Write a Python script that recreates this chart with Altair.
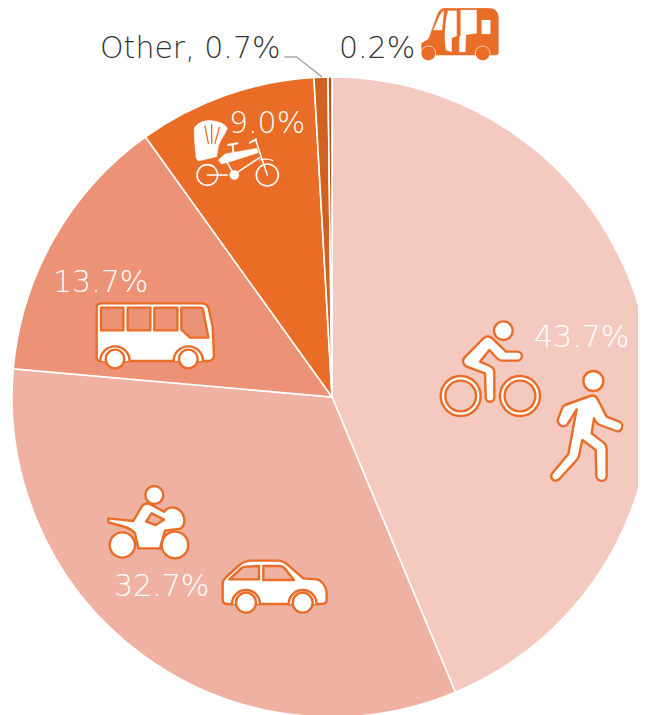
import altair as alt
import pandas as pd

categories = ["Walk and cycle", "Motorcycle and car", "Bus", "Rickshaw", "Other", "Auto rickshaw"]
values = [43.7, 32.7, 13.7, 9.0, 0.7, 0.2]
colours = ["#F4C9C0", "#EFB1A2", "#EC9377", "#E96C27", "#D1611F", "#B5521A"]
labels = ["43.7%", "32.7%", "13.7%", "9.0%", "Other, 0.7%", "0.2%"]
label_colours = ["#FFFFFF", "#FFFFFF", "#FFFFFF", "#FFFFFF", "#333333", "#333333"]

OR = "#E96C27"
PINK = "#F4C9C0"
SALMON = "#EFB1A2"
CORAL = "#EC9377"
WHITE = "#FFFFFF"
FONT = "DejaVu Sans ExtraLight, DejaVu Sans Light, Inter"
W, H = 630, 707
CX, CY, R = 324, 389, 320


def circ(cx, cy, r):
    k = 0.5523 * r
    return (f"M{cx-r},{cy}C{cx-r},{cy-k} {cx-k},{cy-r} {cx},{cy-r}"
            f"C{cx+k},{cy-r} {cx+r},{cy-k} {cx+r},{cy}"
            f"C{cx+r},{cy+k} {cx+k},{cy+r} {cx},{cy+r}"
            f"C{cx-k},{cy+r} {cx-r},{cy+k} {cx-r},{cy}Z")


def arch(cx, cy, r):
    k = 0.5523 * r
    return (f"M{cx-r},{cy}C{cx-r},{cy-k} {cx-k},{cy-r} {cx},{cy-r}"
            f"C{cx+k},{cy-r} {cx+r},{cy-k} {cx+r},{cy}")


base = pd.DataFrame({"a": [0]})


def icon(path, ox, oy, fill=WHITE, stroke=OR, sw=2.4):
    """Path written in 3x-zoomed pixels, placed at page origin (ox, oy)."""
    return alt.Chart(base).mark_point(
        shape=path, size=4 / 9, fill=fill, stroke=stroke, strokeWidth=sw,
        opacity=1, strokeJoin="round", strokeCap="round",
    ).encode(x=alt.value(ox - 8), y=alt.value(oy - 8))


df = pd.DataFrame({"cat": categories, "value": values, "idx": range(len(values)),
                   "label": labels, "tc": label_colours})

pie = alt.Chart(df).mark_arc(radius=R, stroke=WHITE, strokeWidth=1.6).encode(
    theta=alt.Theta("value:Q", stack=True, scale=alt.Scale(domain=[0, sum(values)])),
    order=alt.Order("idx:Q"),
    color=alt.Color("cat:N", scale=alt.Scale(domain=categories, range=colours), legend=None),
    x=alt.value(CX), y=alt.value(CY),
)


def text(i, px, py):
    return alt.Chart(df.iloc[[i]]).mark_text(
        font=FONT, fontSize=30, fontWeight=200, align="left", baseline="alphabetic",
        color=label_colours[i],
    ).encode(text="label:N", x=alt.value(px - 8), y=alt.value(py - 8))


texts = [text(0, 534, 347), text(1, 114, 596), text(2, 53, 292), text(3, 229, 133),
         text(4, 100, 58), text(5, 339, 58)]

# zoom crop origins
Z1 = (90, 0)
Z2 = (430, 310)
Z3 = (90, 470)
Z4 = (40, 255)

icons = []

# leader line
icons.append(icon("M585,171L620,171L695,230", *Z1, fill="transparent", stroke="#A9A9A9", sw=1.5))

# cyclist
icons += [
    icon(circ(92, 258, 60), *Z2),
    icon(circ(92, 258, 46), *Z2, fill=PINK),
    icon(circ(270, 258, 60), *Z2),
    icon(circ(270, 258, 46), *Z2, fill=PINK),
    icon("M160,85C170,76 182,78 190,88L228,125L262,125C280,125 280,152 262,152L215,152C208,152 204,148 200,144L178,120"
         "L150,155L180,168C190,172 193,178 193,188L193,262C193,280 167,280 167,262L165,190L110,170"
         "C98,165 96,150 104,142Z", *Z2),
    icon(circ(220, 62, 28), *Z2),
]
# walker
icons += [
    icon("M405,285L480,258C492,254 498,258 503,268L530,320L568,335C585,342 575,370 558,363L510,345"
         "C500,341 496,335 492,325L485,370L520,397C528,403 530,408 530,418L530,497C530,518 500,518 499,497"
         "L497,420L457,390L447,437C445,445 441,450 436,455L388,507C372,522 355,502 370,486L415,432L440,298"
         "L413,342C400,358 376,342 386,322L396,296C398,290 400,287 405,285Z", *Z2),
    icon(circ(490, 213, 30), *Z2),
]
# motorcycle
icons += [
    icon("M55,145L130,153L155,110C162,98 172,98 185,105L222,125C232,112 250,108 265,118C285,132 290,160 272,176"
         "L225,182L210,235L145,235L135,190C125,178 112,172 95,168L55,157Z", *Z3),
    icon("M185,130L222,149L197,165L168,155Z", *Z3, fill=SALMON),
    icon(circ(97, 225, 38), *Z3),
    icon(circ(255, 225, 40), *Z3),
    icon(circ(193, 75, 27), *Z3),
]
# car
icons += [
    icon("M398,340C398,330 405,325 412,318L445,288C458,276 468,272 485,272L565,272C578,272 585,278 595,286"
         "L640,325L680,328C695,330 710,350 710,370L710,390C710,398 705,402 695,402L410,402C400,402 398,396 398,388Z", *Z3),
    icon("M418,328L455,294C458,291 462,290 468,290L507,288L507,328Z", *Z3, fill=SALMON),
    icon("M520,288L570,288C576,288 580,291 584,295L612,330L520,330Z", *Z3, fill=SALMON),
    icon(arch(468, 402, 42), *Z3),
    icon(circ(468, 398, 30), *Z3),
    icon(arch(638, 402, 42), *Z3),
    icon(circ(638, 398, 30), *Z3),
]
# bus
icons += [
    icon("M170,158C170,150 175,145 185,145L485,145C498,145 503,152 506,160L518,215L522,300C522,312 516,318 505,318"
         "L180,318C173,318 170,312 170,305Z", *Z4),
    icon("M183,158L250,158L250,226L183,226Z", *Z4, fill=CORAL),
    icon("M263,158L331,158L331,226L263,226Z", *Z4, fill=CORAL),
    icon("M343,158L412,158L412,226L343,226Z", *Z4, fill=CORAL),
    icon("M424,158L482,158C486,158 488,160 489,164L505,248L450,248L424,224Z", *Z4, fill=CORAL),
    icon(arch(225, 318, 44), *Z4),
    icon(circ(225, 312, 28), *Z4),
    icon(arch(445, 318, 44), *Z4),
    icon(circ(445, 312, 28), *Z4),
]
# auto rickshaw (solid)
icons += [
    icon("M1018,112L1042,45C1048,30 1056,25 1068,25L1198,25C1215,25 1225,38 1225,52L1225,158C1225,164 1220,165 1212,165"
         "L1030,165L1000,158L995,150L995,130L1015,118Z", *Z1, fill=OR, stroke=OR, sw=0.5),
    icon("M1030,90L1050,45C1054,38 1058,33 1062,33L1056,90Z", *Z1, fill=WHITE, stroke=WHITE, sw=0.2),
    icon("M1074,32L1100,32L1100,108L1085,114L1085,156L1068,150C1062,120 1064,70 1074,32Z", *Z1, fill=WHITE, stroke=WHITE, sw=0.2),
    icon("M1112,30L1160,30L1160,100L1128,104L1126,156L1108,156L1108,110L1112,108Z", *Z1, fill=WHITE, stroke=WHITE, sw=0.2),
    icon("M1175,60L1201,60L1201,102L1175,102Z", *Z1, fill=WHITE, stroke=WHITE, sw=0.2),
    icon(circ(1015, 160, 22), *Z1, fill=OR, stroke=WHITE, sw=0.7),
    icon(circ(1178, 160, 22), *Z1, fill=OR, stroke=WHITE, sw=0.7),
]
# cycle rickshaw (white on orange)
icons += [
    icon("M313,385C320,368 345,360 365,362C385,364 405,370 412,385C405,405 390,420 385,440L380,470L328,482"
         "C322,482 318,476 318,470C315,440 312,410 313,385Z", *Z1, fill=WHITE, stroke=WHITE, sw=0.5),
    icon("M345,378L355,430", *Z1, fill="transparent", stroke=OR, sw=1.3),
    icon("M365,374L365,430", *Z1, fill="transparent", stroke=OR, sw=1.3),
    icon("M388,382L375,430", *Z1, fill="transparent", stroke=OR, sw=1.3),
    icon("M385,480L405,462L500,445L505,458L420,485L395,492Z", *Z1, fill=WHITE, stroke=WHITE, sw=0.5),
    icon("M415,435L442,430M428,435L430,458M480,428L498,418", *Z1, fill="transparent", stroke=WHITE, sw=2),
    icon("M497,420L532,525M410,485L430,520M352,525L412,525M445,515L510,472", *Z1, fill="transparent", stroke=WHITE, sw=1.5),
    icon(circ(352, 525, 31), *Z1, fill="transparent", stroke=WHITE, sw=1.6),
    icon(circ(532, 525, 33), *Z1, fill="transparent", stroke=WHITE, sw=1.6),
    icon(circ(433, 525, 14), *Z1, fill=WHITE, stroke=WHITE, sw=0.2),
    icon("M510,480C525,476 535,476 548,482", *Z1, fill="transparent", stroke=WHITE, sw=1.2),
]

chart = alt.layer(pie, *icons, *texts).properties(
    width=W, height=H, padding=0, autosize=alt.AutoSizeParams(type="none"),
).configure_view(stroke=None)

chart.save("out.html", embed_options={"renderer": "svg", "actions": False})
